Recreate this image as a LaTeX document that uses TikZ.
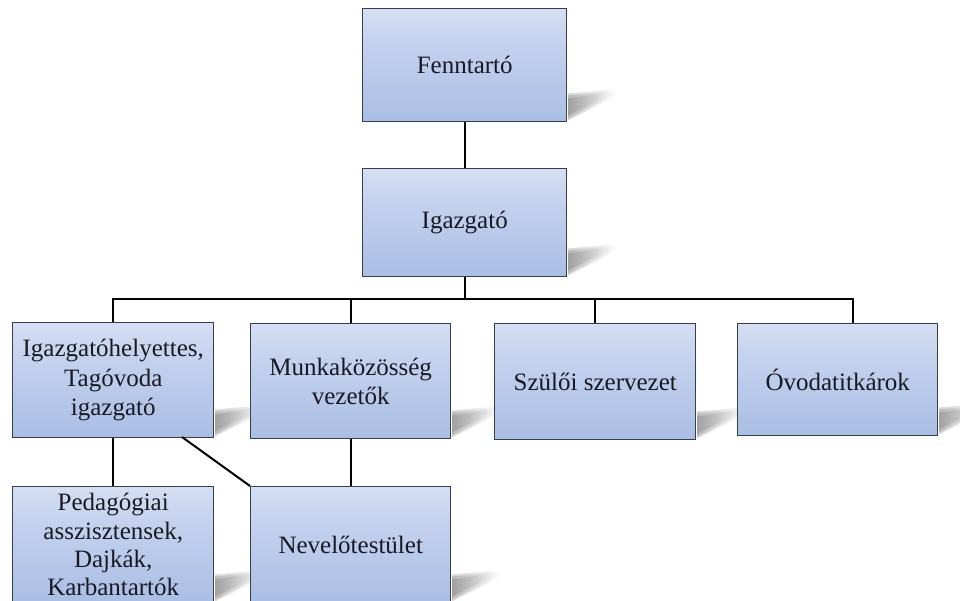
\documentclass[tikz,border=0pt]{standalone}
\usepackage{fontspec}
\setmainfont{Liberation Serif}
\usetikzlibrary{calc,fadings,backgrounds}
\definecolor{btop}{RGB}{243,244,252}
\definecolor{bmid}{RGB}{196,210,238}
\definecolor{bbot}{RGB}{166,187,227}
\definecolor{bbotl}{RGB}{182,199,233}
\definecolor{bline}{RGB}{55,62,78}
\definecolor{txt}{RGB}{25,25,35}
\pgfdeclareverticalshading{boxshade}{100bp}{color(0bp)=(bbotl); color(6bp)=(bbot); color(20bp)=(bbot); color(60bp)=(bmid); color(100bp)=(btop)}
\tikzset{
  orgbox/.style={draw=bline, line width=1.1pt, shading=boxshade, anchor=north west,
    inner sep=0pt, align=center, text=txt,
    font=\fontsize{18.75}{22}\selectfont},
  conn/.style={line width=1.5pt, black},
  shadowwedge/.style={fill=black!70, path fading=east, opacity=0.22}
}
\newcommand{\boxshadow}[1]{%
  \fill[shadowwedge] ($(#1.south east)+(0.6,-2)$) -- ($(#1.south east)+(0.6,-29)$)
    -- ($(#1.south east)+(44,-33)$) -- ($(#1.south east)+(52,-28)$) -- cycle;
  \fill[shadowwedge] ($(#1.south east)+(0.6,-4)$) -- ($(#1.south east)+(0.6,-27)$)
    -- ($(#1.south east)+(40,-31)$) -- ($(#1.south east)+(47,-28)$) -- cycle;
  \fill[shadowwedge] ($(#1.south east)+(0.6,-7)$) -- ($(#1.south east)+(0.6,-24)$)
    -- ($(#1.south east)+(34,-29)$) -- ($(#1.south east)+(40,-27)$) -- cycle;}
\begin{document}
\begin{tikzpicture}[x=0.75pt,y=-0.75pt]
\useasboundingbox (0,0) rectangle (960,600);
\node[orgbox, minimum width=153pt, minimum height=84.75pt] (fenn) at (362,8) {Fenntartó};
\node[orgbox, minimum width=153pt, minimum height=81pt] (igaz) at (362,168) {Igazgató};
\node[orgbox, minimum width=150.75pt, minimum height=86.25pt] (ih) at (12,322) {Igazgatóhelyettes,\\Tagóvoda\\igazgató};
\node[orgbox, minimum width=150pt, minimum height=86.25pt] (mk) at (250,323) {Munkaközösség\\vezetők};
\node[orgbox, minimum width=150.75pt, minimum height=87pt] (szsz) at (494,323) {Szülői szervezet};
\node[orgbox, minimum width=150pt, minimum height=84pt] (ovt) at (737,323) {Óvodatitkárok};
\node[orgbox, minimum width=150.75pt, minimum height=87pt, font=\fontsize{18.75}{21.3}\selectfont] (ped) at (12,486) {Pedagógiai\\asszisztensek,\\Dajkák,\\Karbantartók};
\node[orgbox, minimum width=150pt, minimum height=87pt] (nev) at (250,486) {Nevelőtestület};
\begin{scope}[on background layer]
\foreach \b in {fenn,igaz,ih,mk,szsz,ovt,ped,nev} {\boxshadow{\b}}
\end{scope}
\coordinate (bus) at (0,299);
\coordinate (ovtin) at ($(ovt.north)+(15,0)$);
\coordinate (diag) at (182,437);
\draw[conn] (fenn.south) -- (igaz.north);
\draw[conn] (igaz.south) -- (igaz.south |- bus);
\draw[conn] (ih.north) -- (ih.north |- bus) -- (ovtin |- bus) -- (ovtin);
\draw[conn] (mk.north |- bus) -- (mk.north);
\draw[conn] (szsz.north |- bus) -- (szsz.north);
\draw[conn] (ih.south) -- (ped.north);
\draw[conn] (mk.south) -- (nev.north);
\draw[conn] (diag) -- (nev.north west);
\end{tikzpicture}
\end{document}
